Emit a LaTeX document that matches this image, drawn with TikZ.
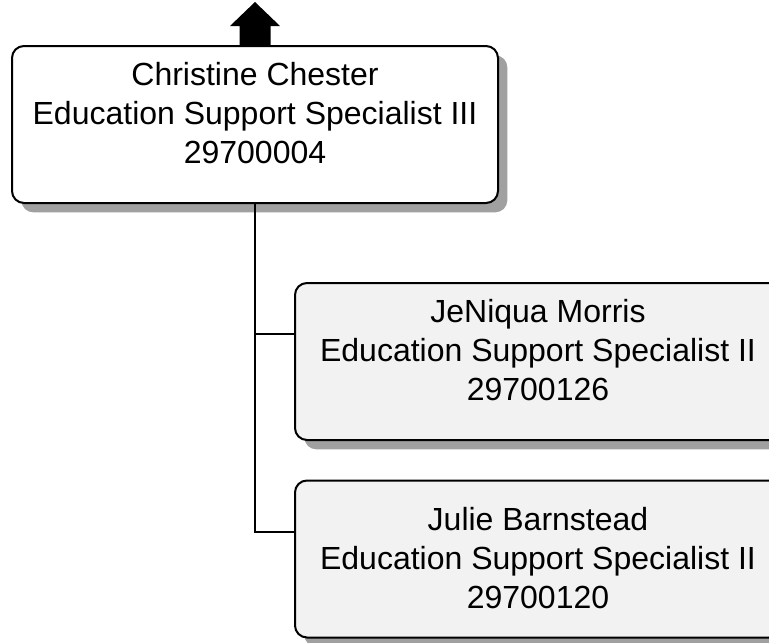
\documentclass[tikz,border=0pt]{standalone}
\usepackage{fontspec}
\setmainfont{Liberation Sans}
\usetikzlibrary{shadows,positioning}
\definecolor{shadowgray}{HTML}{A0A0A0}
\definecolor{staffgray}{HTML}{F2F2F2}
\tikzset{
    person/.style={draw=black, line width=1.5pt, rounded corners=9pt,
        minimum width=364.5pt, minimum height=117.75pt, inner sep=0pt,
        drop shadow={shadow xshift=7pt, shadow yshift=-7pt, fill=shadowgray, opacity=1}},
    persontext/.style={align=center, inner sep=0pt, yshift=8.5pt,
        font=\fontsize{24}{29.2}\selectfont},
    link/.style={line width=1.5pt}
}
\begin{document}
\begin{tikzpicture}[x=0.75pt, y=-0.75pt]
    \useasboundingbox (0,0) rectangle (769,643);
    \clip (0,0) rectangle (769,643);

    % Supervisor
    \node[person, fill=white, label={[persontext]center:Christine Chester\\Education Support Specialist III\\29700004}] (boss) at (255,124.5) {};

    % Up arrow to next level
    \fill[black] (boss.north) ++(-15.5,0) -- ++(0,-19) -- ++(-9.5,0) -- ++(25,-24)
        -- ++(25,24) -- ++(-9.5,0) -- ++(0,19) -- cycle;

    % Direct reports
    \node[person, fill=staffgray, label={[persontext]center:JeNiqua Morris\\Education Support Specialist II\\29700126}] (jmorris) at (538,361.5) {};
    \node[person, fill=staffgray, label={[persontext, yshift=-7.5pt]center:Julie Barnstead\\Education Support Specialist II\\29700120}] (jbarnstead) at (538,559) {};

    % Connectors
    \coordinate (jmorrisin) at ([yshift=-39pt]jmorris.north west);
    \coordinate (jbarnsteadin) at ([yshift=-39pt]jbarnstead.north west);
    \draw[link] (boss.south) |- (jmorrisin);
    \draw[link] (boss.south) |- (jbarnsteadin);
\end{tikzpicture}
\end{document}
